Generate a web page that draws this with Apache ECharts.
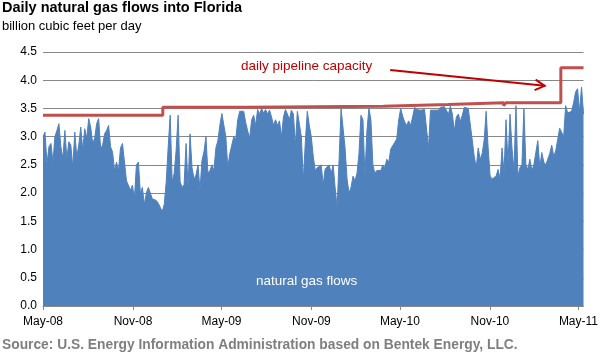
<!DOCTYPE html>
<html>
<head>
<meta charset="utf-8">
<script src="https://cdn.jsdelivr.net/npm/echarts@6/dist/echarts.min.js"></script>
<style>
  html, body { margin: 0; padding: 0; background: #fff; }
  #chart { width: 601px; height: 352px; }
</style>
</head>
<body>
<div id="chart"></div>
<script>
// daily flows, one reading every 4.064 days starting 1 May 2008 (billion cubic feet per day)
var flowStart = '2008-05-01'
var flowStepDays = 4.064
var flows = [
  3.0, 3.08, 2.52, 2.82, 2.88, 2.55, 3.0, 3.11, 3.23, 2.82, 2.61, 3.11, 2.61, 2.91, 2.85, 2.46, 3.08, 2.64, 2.85, 3.17,
  2.76, 3.14, 2.97, 3.32, 3.17, 2.88, 2.97, 3.23, 3.32, 2.79, 2.85, 3.05, 3.11, 3.2, 2.82, 2.73, 2.4, 2.55, 2.4,
  2.8, 2.88, 2.55, 2.22, 2.2, 2.05, 2.14, 1.9, 2.5, 2.55, 2.0, 2.1, 1.8, 2.0, 2.1, 2.0, 1.9, 1.9, 1.87, 1.82,
  1.75, 1.67, 1.8, 2.2, 2.82, 3.38, 2.2, 2.35, 2.76, 3.38, 2.2, 2.1, 2.15, 2.88, 2.1, 3.05, 2.45, 2.25, 2.32,
  2.5, 2.05, 2.58, 2.73, 3.0, 2.35, 2.4, 2.5, 2.4, 2.8, 2.93, 3.2, 3.41, 3.38, 3.0, 2.45, 2.7, 2.85, 3.0, 2.95,
  3.3, 3.45, 3.48, 3.45, 3.25, 3.1, 2.98, 3.3, 3.38, 3.2, 3.48, 3.4, 3.5, 3.42, 3.48, 3.4, 3.47, 3.35, 3.2,
  3.3, 3.2, 3.28, 3.0, 3.35, 3.48, 3.4, 3.3, 3.47, 3.4, 2.85, 3.45, 3.48, 3.0, 2.23, 2.9, 3.45, 3.2, 3.0, 2.65,
  2.4, 2.45, 2.42, 2.5, 2.15, 2.43, 2.4, 2.5, 2.35, 2.5, 2.1, 1.75, 2.6, 3.5, 3.48, 2.8, 2.25, 2.0, 2.1,
  2.3, 2.22, 2.35, 2.7, 3.38, 3.3, 2.3, 3.1, 3.5, 3.3, 2.5, 2.35, 2.4, 2.42, 2.4, 2.5, 2.45, 2.6, 2.55, 2.78,
  2.78, 2.9, 2.96, 3.3, 3.5, 3.36, 3.26, 3.2, 3.28, 3.2, 3.35, 3.52, 3.48, 3.5, 3.47, 3.5, 3.48, 3.47, 2.8,
  3.47, 3.5, 3.47, 3.5, 3.47, 3.52, 3.5, 3.53, 3.5, 3.4, 3.54, 3.4, 3.1, 3.35, 3.4, 3.27, 3.38, 3.52, 3.5, 3.5,
  3.5, 2.94, 2.65, 2.45, 2.8, 2.6, 2.7, 2.94, 3.45, 2.8, 2.3, 2.25, 2.23, 2.3, 2.42, 2.25, 2.8, 2.35, 3.3,
  2.52, 3.4, 2.8, 2.4, 3.55, 2.3, 2.45, 2.5, 3.5, 2.5, 2.42, 2.6, 2.4, 2.5, 2.72, 2.93, 2.45, 2.72, 2.55, 2.5,
  2.6, 2.7, 2.85, 2.65, 2.75, 2.95, 3.15, 3.12, 3.0, 3.55, 3.42, 3.4, 3.45, 3.6, 3.79, 3.85, 3.45, 3.88, 3.4
]

// pipeline capacity, each value holds until the next date
var capacityDates = ['2008-05-01', '2009-01-01', '2009-06-19', '2010-03-28', '2010-08-07', '2010-11-29',
  '2010-12-03', '2011-01-13', '2011-01-15', '2011-03-26']
var capacityValues = [3.38, 3.52, 3.54, 3.57, 3.60, 3.55, 3.60, 3.57, 3.60, 4.22]

var tickDates = ['2008-05-01', '2008-11-01', '2009-05-01', '2009-11-01', '2010-05-01', '2010-11-01', '2011-05-01']
var tickLabels = ['May-08', 'Nov-08', 'May-09', 'Nov-09', 'May-10', 'Nov-10', 'May-11']

var FONT = 'Liberation Sans, Arial, sans-serif'
var DAY = 24 * 3600 * 1000
var t0 = new Date(flowStart + 'T00:00:00Z').getTime()

// x is counted in days since flowStart
function toDay (s) {
  return (new Date(s + 'T00:00:00Z').getTime() - t0) / DAY
}

var flowData = flows.map(function (v, i) {
  return [i * flowStepDays, v]
})
var endDay = flowData[flowData.length - 1][0]

var capData = capacityDates.map(function (d, i) {
  return [toDay(d), capacityValues[i]]
})
capData.push([endDay, capacityValues[capacityValues.length - 1]])

var tickDays = tickDates.map(toDay)

var myChart = echarts.init(document.getElementById('chart'))
var option = {
  animation: false,
  title: {
    text: 'Daily natural gas flows into Florida',
    subtext: 'billion cubic feet per day',
    left: 2,
    top: 0,
    padding: 0,
    itemGap: 5,
    textStyle: { fontFamily: FONT, fontSize: 14.5, fontWeight: 'bold', color: '#000' },
    subtextStyle: { fontFamily: FONT, fontSize: 13, color: '#000' }
  },
  grid: { left: 43, right: 14, top: 52, bottom: 46 },
  xAxis: {
    type: 'value',
    min: 0,
    max: endDay,
    axisLine: { lineStyle: { color: '#888', width: 1 } },
    axisTick: { customValues: tickDays, length: 4, lineStyle: { color: '#888' } },
    axisLabel: {
      customValues: tickDays,
      fontFamily: FONT,
      fontSize: 12,
      color: '#000',
      margin: 10,
      formatter: function (value) {
        var i = tickDays.indexOf(value)
        return i >= 0 ? tickLabels[i] : ''
      }
    },
    splitLine: { show: false }
  },
  yAxis: {
    type: 'value',
    min: 0,
    max: 4.5,
    interval: 0.5,
    axisLine: { show: false },
    axisTick: { show: false },
    axisLabel: {
      fontFamily: FONT,
      fontSize: 12,
      color: '#000',
      margin: 6,
      formatter: function (v) { return v.toFixed(1) }
    },
    splitLine: { lineStyle: { color: '#888', width: 1 } }
  },
  series: [
    {
      name: 'natural gas flows',
      type: 'line',
      data: flowData,
      showSymbol: false,
      lineStyle: { color: '#4F81BD', width: 1 },
      areaStyle: { color: '#4F81BD', opacity: 1 },
      z: 2
    },
    {
      name: 'daily pipeline capacity',
      type: 'line',
      step: 'end',
      data: capData,
      showSymbol: false,
      lineStyle: { color: '#C0504D', width: 3 },
      z: 3
    }
  ],
  graphic: [
    {
      type: 'text',
      left: 2,
      top: 338,
      z: 100,
      style: {
        text: 'Source: U.S. Energy Information Administration based on Bentek Energy, LLC.',
        font: 'bold 13.8px ' + FONT,
        fill: '#7f7f7f'
      }
    },
    {
      type: 'text',
      left: 241,
      top: 59,
      z: 100,
      style: { text: 'daily pipeline capacity', font: '13.5px ' + FONT, fill: '#C00000' }
    },
    {
      type: 'text',
      left: 256,
      top: 274,
      z: 100,
      style: { text: 'natural gas flows', font: '13.5px ' + FONT, fill: '#fff' }
    }
  ]
}
myChart.setOption(option)

// arrow from the capacity label to the step-up, placed in data space
var arrowFrom = myChart.convertToPixel({ gridIndex: 0 }, [toDay('2010-04-11'), 4.18])
var arrowTo = myChart.convertToPixel({ gridIndex: 0 }, [toDay('2011-02-21'), 3.9])
var ang = Math.atan2(arrowTo[1] - arrowFrom[1], arrowTo[0] - arrowFrom[0])
var headLen = 11
var headA = 0.5
var wing1 = [arrowTo[0] - headLen * Math.cos(ang - headA), arrowTo[1] - headLen * Math.sin(ang - headA)]
var wing2 = [arrowTo[0] - headLen * Math.cos(ang + headA), arrowTo[1] - headLen * Math.sin(ang + headA)]
myChart.setOption({
  graphic: option.graphic.concat([
    {
      type: 'polyline',
      z: 100,
      shape: { points: [arrowFrom, arrowTo] },
      style: { stroke: '#C00000', lineWidth: 2 }
    },
    {
      type: 'polyline',
      z: 100,
      shape: { points: [wing1, arrowTo, wing2] },
      style: { stroke: '#C00000', lineWidth: 2, fill: null }
    }
  ])
})
</script>
</body>
</html>
